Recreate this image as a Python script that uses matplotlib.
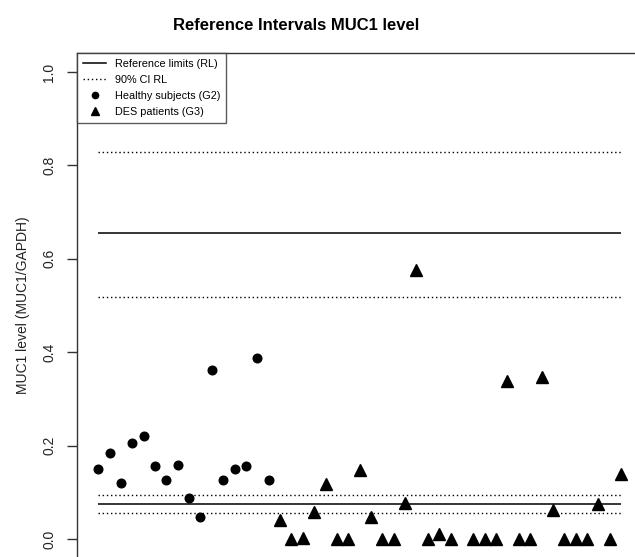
import numpy as np
import matplotlib
matplotlib.use("Agg")
import matplotlib.pyplot as plt
from matplotlib.lines import Line2D

plt.rcParams['font.family'] = ['Liberation Sans', 'DejaVu Sans']

# MUC1 levels (index = subject number)
g2_values = [0.150, 0.184, 0.120, 0.206, 0.221, 0.156, 0.126, 0.159,
             0.087, 0.048, 0.362, 0.126, 0.149, 0.156, 0.388, 0.126]
g3_values = [0.041, 0.000, 0.003, 0.057, 0.117, 0.000, 0.000, 0.148,
             0.047, 0.000, 0.000, 0.077, 0.577, 0.000, 0.011, 0.000,
             np.nan, 0.000, 0.000, 0.000, 0.339, 0.000, 0.000, 0.347,
             0.062, 0.000, 0.000, 0.000, 0.074, 0.000, 0.139]
ref_limits = [0.0744, 0.655]
ci_limits = [0.0564, 0.0943, 0.519, 0.8285]
y_ticks = [0.0, 0.2, 0.4, 0.6, 0.8, 1.0]
legend_labels = ["Reference limits (RL)", "90% CI RL",
                 "Healthy subjects (G2)", "DES patients (G3)"]

n2 = len(g2_values)
n_all = n2 + len(g3_values)
x_g2 = np.arange(1, n2 + 1)
x_g3 = np.arange(n2 + 1, n_all + 1)

fig = plt.figure(figsize=(6.35, 5.57), dpi=100)
ax = fig.add_axes([0.1217, -0.0013, 0.8893, 0.9056])

dot = (0, (1, 2))
for v in ref_limits:
    ax.plot([1, n_all], [v, v], color='black', lw=1.1, solid_capstyle='butt')
for v in ci_limits:
    ax.plot([1, n_all], [v, v], color='black', lw=1.0, linestyle=dot)

ax.plot(x_g2, g2_values, 'o', color='black', ms=6.2, mec='black')
ax.plot(x_g3, g3_values, '^', color='black', ms=8, mec='black')

ax.set_xlim(-0.84, n_all + 1.84)
ax.set_ylim(-0.04, 1.04)
ax.set_xticks([])
ax.set_yticks(y_ticks)
ax.set_yticklabels(["%.1f" % t for t in y_ticks], rotation=90, va='center',
                   fontsize=10, color='#222222')
ax.tick_params(axis='y', length=7, width=1.0, pad=8, color='#333333')
for s in ax.spines.values():
    s.set_color('#333333')
    s.set_linewidth(1.0)

ax.set_ylabel("MUC1 level (MUC1/GAPDH)", fontsize=10, color='#222222', labelpad=9)

handles = [
    Line2D([], [], color='black', lw=1.1),
    Line2D([], [], color='black', lw=1.0, linestyle=dot),
    Line2D([], [], color='black', marker='o', ms=4.5, lw=0),
    Line2D([], [], color='black', marker='^', ms=6, lw=0),
]
leg = ax.legend(handles, legend_labels, loc='upper left', fontsize=7.8,
                frameon=True, fancybox=False, borderaxespad=0, borderpad=0.55,
                handlelength=2.1, handletextpad=0.8, labelspacing=0.55)
leg.get_frame().set_edgecolor('#333333')
leg.get_frame().set_linewidth(1.0)

fig.text(296 / 635, 1 - 25 / 557, "Reference Intervals MUC1 level",
         ha='center', va='center', fontsize=12, fontweight='bold')

fig.savefig("out.png", dpi=100)
